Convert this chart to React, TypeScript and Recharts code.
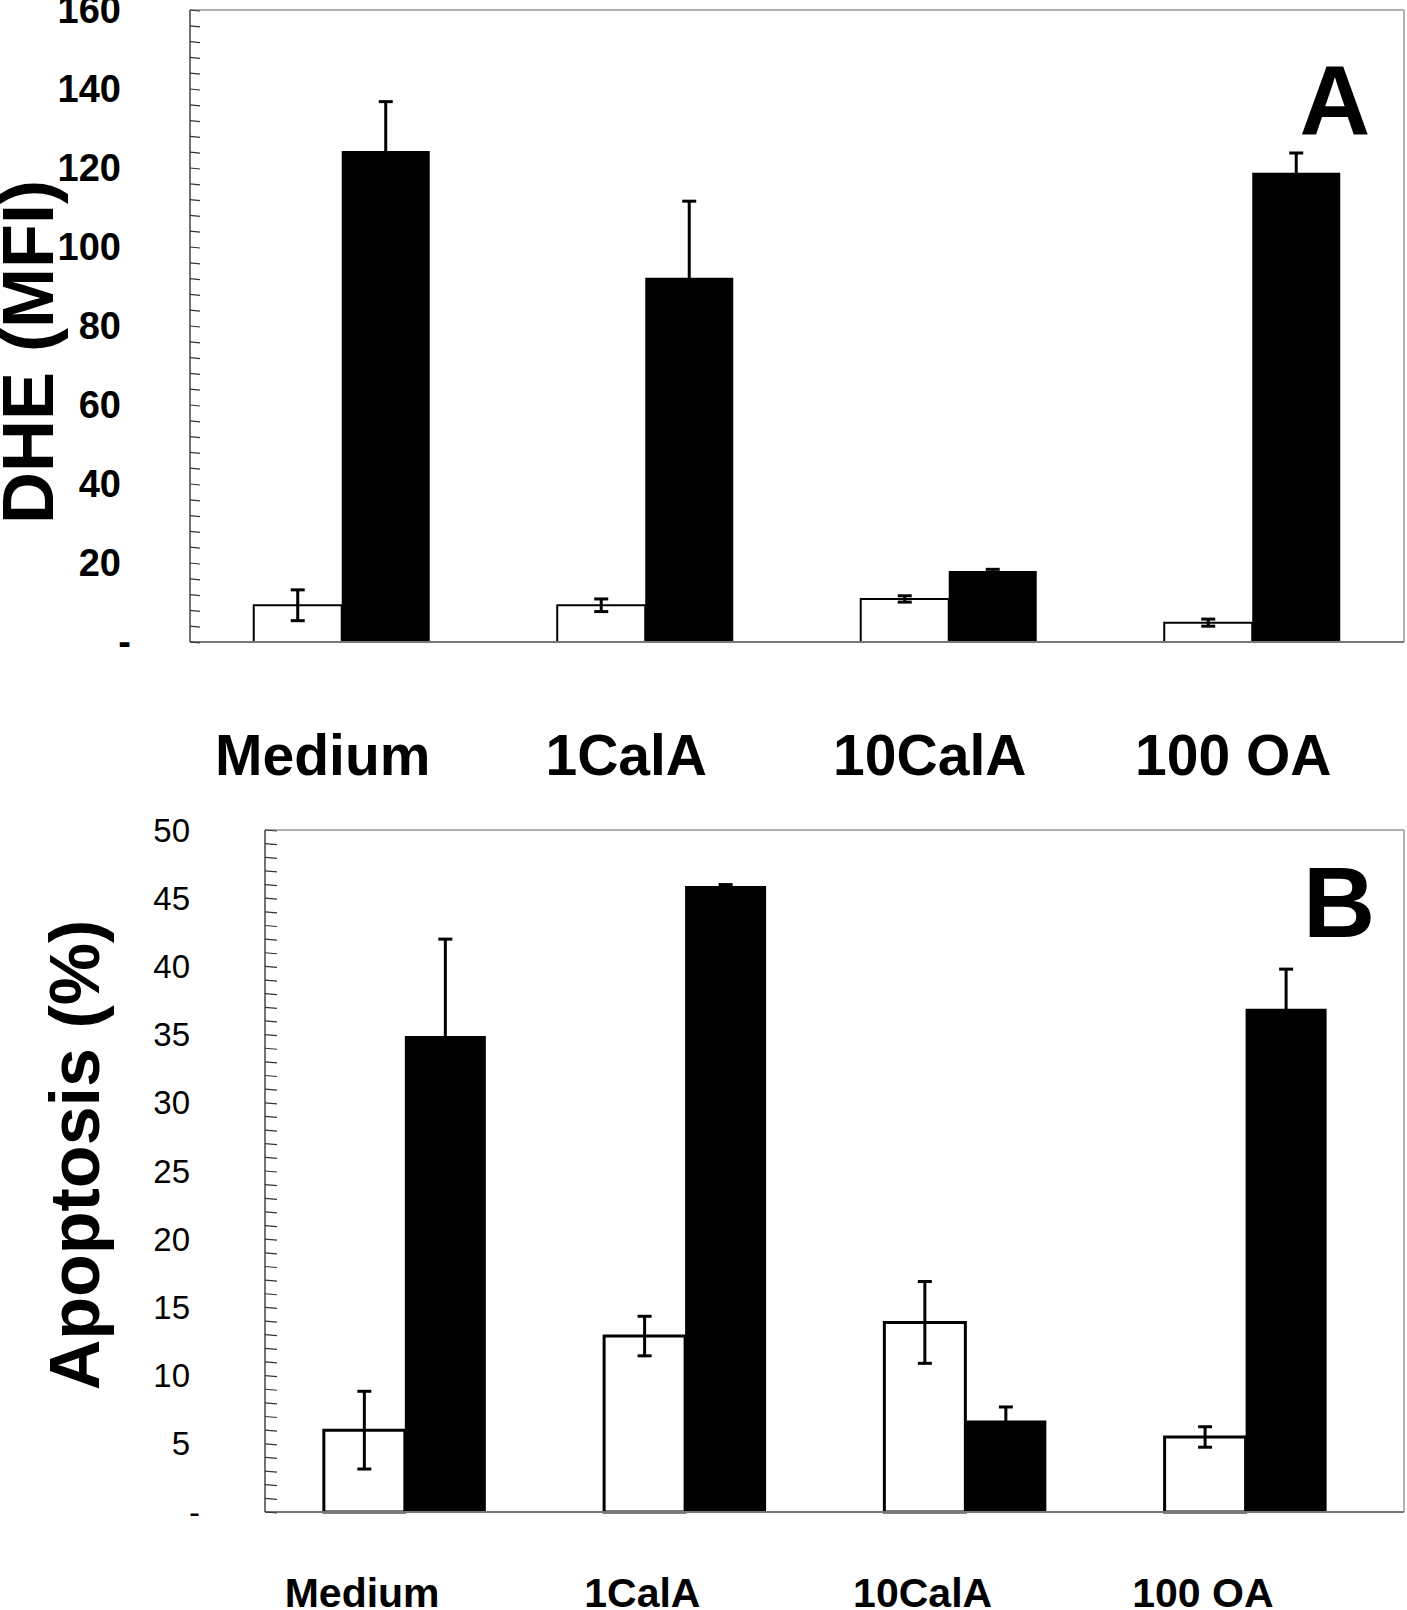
import { BarChart, Bar, XAxis, YAxis, ErrorBar, Label, CartesianGrid } from 'recharts'

const categories = ['Medium', '1CalA', '10CalA', '100 OA']

// panel A - DHE (MFI)
const dheControl = [9.3, 9.3, 10.9, 4.9]
const dheControlErr = [3.9, 1.6, 0.8, 0.9]
const dheTreated = [124.3, 92.2, 18.0, 118.8]
const dheTreatedErr = [12.5, 19.4, 0.4, 5.0]
const dheTickLabels = [0, 20, 40, 60, 80, 100, 120, 140, 160]
const dheMinorStep = 4

// panel B - Apoptosis (%)
const apoControl = [6.0, 12.9, 13.9, 5.5]
const apoControlErr = [2.85, 1.45, 3.0, 0.75]
const apoTreated = [34.9, 45.9, 6.7, 36.9]
const apoTreatedErr = [7.1, 0.1, 1.0, 2.9]
const apoTickLabels = [0, 5, 10, 15, 20, 25, 30, 35, 40, 45, 50]
const apoMinorStep = 1

const FONT = '"Liberation Sans", Arial, sans-serif'

const buildRows = (ctl: number[], ctlErr: number[], trt: number[], trtErr: number[]) =>
  categories.map((name, i) => ({
    name,
    control: ctl[i],
    controlErr: ctlErr[i],
    treated: trt[i],
    treatedErr: trtErr[i],
  }))

const buildMinorTicks = (labels: number[], step: number) => {
  const max = labels[labels.length - 1]
  const out: number[] = []
  for (let v = 0; v <= max + 1e-9; v += step) out.push(Math.round(v * 1000) / 1000)
  return out
}

const dheRows = buildRows(dheControl, dheControlErr, dheTreated, dheTreatedErr)
const apoRows = buildRows(apoControl, apoControlErr, apoTreated, apoTreatedErr)

const makeYTick = (axisX: number, labelX: number, labels: number[], bold: boolean, fontSize: number, tickLen: number) =>
  (props: any) => {
    const { y, payload } = props
    const v = payload.value
    const show = labels.includes(v)
    return (
      <g>
        <line x1={axisX} x2={axisX + tickLen} y1={y} y2={y + 1} stroke="#333" strokeWidth={1.2} />
        {show && (
          <text
            x={v === 0 ? labelX + 10 : labelX}
            y={y}
            textAnchor="end"
            dominantBaseline="central"
            fontFamily={FONT}
            fontWeight={bold ? 700 : 400}
            fontSize={fontSize}
            fill="#000"
          >
            {v === 0 ? '-' : v}
          </text>
        )}
      </g>
    )
  }

const makeXTick = (baseline: number, dx: number, fontSize: number) => (props: any) => (
  <text x={props.x + dx} y={baseline} textAnchor="middle" fontFamily={FONT} fontWeight={700} fontSize={fontSize} fill="#000">
    {props.payload.value}
  </text>
)

const axisTitle = (text: string, x: number, y: number, size: number) => () => (
  <text x={x} y={y} transform={`rotate(-90 ${x} ${y})`} textAnchor="middle" fontFamily={FONT} fontWeight={700} fontSize={size} fill="#000">
    {text}
  </text>
)

const panelLetter = (text: string, x: number, y: number, size: number) => () => (
  <text x={x} y={y} textAnchor="middle" fontFamily={FONT} fontWeight={700} fontSize={size} fill="#000">
    {text}
  </text>
)

// top and right edges of the plot frame
const frameTop = (p: any) => [p?.offset?.top ?? 0]
const frameRight = (p: any) => [(p?.offset?.left ?? 0) + (p?.offset?.width ?? 0)]

export default function App() {
  return (
    <div style={{ position: 'absolute', left: 0, top: 0, width: 1407, height: 1610, background: '#fff' }}>
      <div style={{ position: 'absolute', left: 0, top: 0 }}>
        <BarChart width={1407} height={800} data={dheRows} margin={{ top: 10, right: 3, left: 0, bottom: 0 }} barGap={0} barCategoryGap="21%">
          <CartesianGrid stroke="#999" strokeWidth={1.5} horizontalCoordinatesGenerator={frameTop} verticalCoordinatesGenerator={frameRight} />
          <XAxis dataKey="name" height={158} axisLine={{ stroke: '#777', strokeWidth: 2 }} tickLine={false} interval={0} tick={makeXTick(775, -19, 57)}>
            <Label content={panelLetter('A', 1335, 134, 98)} />
          </XAxis>
          <YAxis
            type="number"
            domain={[0, 160]}
            ticks={buildMinorTicks(dheTickLabels, dheMinorStep)}
            interval={0}
            width={190}
            axisLine={{ stroke: '#444', strokeWidth: 1.5 }}
            tickLine={false}
            tick={makeYTick(190, 121, dheTickLabels, true, 38, 10)}
          >
            <Label content={axisTitle('DHE (MFI)', 53, 352, 72)} />
          </YAxis>
          <Bar dataKey="control" fill="#fff" stroke="#000" strokeWidth={2} isAnimationActive={false}>
            <ErrorBar dataKey="controlErr" width={7} strokeWidth={3} stroke="#000" direction="y" isAnimationActive={false} />
          </Bar>
          <Bar dataKey="treated" fill="#000" isAnimationActive={false}>
            <ErrorBar dataKey="treatedErr" width={7} strokeWidth={3} stroke="#000" direction="y" isAnimationActive={false} />
          </Bar>
        </BarChart>
      </div>
      <div style={{ position: 'absolute', left: 0, top: 810 }}>
        <BarChart width={1407} height={800} data={apoRows} margin={{ top: 20, right: 3, left: 0, bottom: 0 }} barGap={0} barCategoryGap="21%">
          <CartesianGrid stroke="#999" strokeWidth={1.5} horizontalCoordinatesGenerator={frameTop} verticalCoordinatesGenerator={frameRight} />
          <XAxis dataKey="name" height={98} padding={{ left: 0, right: 18 }} axisLine={{ stroke: '#777', strokeWidth: 2 }} tickLine={false} interval={0} tick={makeXTick(797, -43, 41)}>
            <Label content={panelLetter('B', 1339, 127, 100)} />
          </XAxis>
          <YAxis
            type="number"
            domain={[0, 50]}
            ticks={buildMinorTicks(apoTickLabels, apoMinorStep)}
            interval={0}
            width={265}
            axisLine={{ stroke: '#444', strokeWidth: 1.5 }}
            tickLine={false}
            tick={makeYTick(265, 190, apoTickLabels, false, 33, 12)}
          >
            <Label content={axisTitle('Apoptosis (%)', 99, 345, 70)} />
          </YAxis>
          <Bar dataKey="control" fill="#fff" stroke="#000" strokeWidth={3} isAnimationActive={false}>
            <ErrorBar dataKey="controlErr" width={7} strokeWidth={3} stroke="#000" direction="y" isAnimationActive={false} />
          </Bar>
          <Bar dataKey="treated" fill="#000" isAnimationActive={false}>
            <ErrorBar dataKey="treatedErr" width={7} strokeWidth={3} stroke="#000" direction="y" isAnimationActive={false} />
          </Bar>
        </BarChart>
      </div>
    </div>
  )
}
